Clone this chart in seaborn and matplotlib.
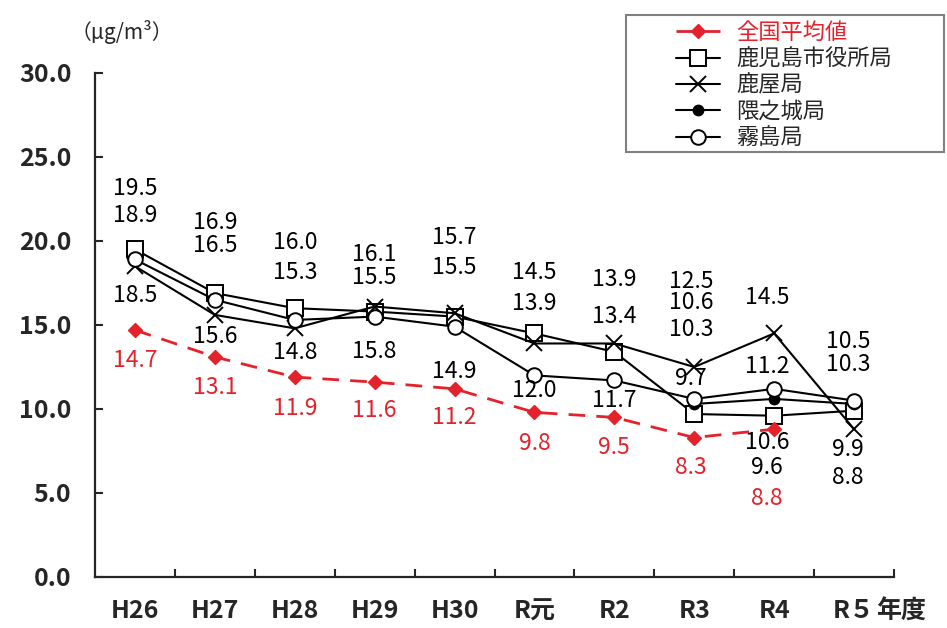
#Recreating the PM2.5 annual average chart (Kagoshima)

import numpy as np
import pandas as pd
import seaborn as sns
import matplotlib
matplotlib.use("Agg")
import matplotlib.pyplot as plt
from matplotlib.patches import Rectangle

# Data
categories = ["H26", "H27", "H28", "H29", "H30", "R元", "R2", "R3", "R4", "R５"]
national = [14.7, 13.1, 11.9, 11.6, 11.2, 9.8, 9.5, 8.3, 8.8, np.nan]
kagoshima = [19.5, 16.9, 16.0, 15.8, 15.5, 14.5, 13.4, 9.7, 9.6, 9.9]
kanoya = [18.5, 15.6, 14.8, 16.1, 15.7, 13.9, 13.9, 12.5, 14.5, 8.8]
kumanojo = [np.nan] * 7 + [10.3, 10.6, 10.3]
kirishima = [18.9, 16.5, 15.3, 15.5, 14.9, 12.0, 11.7, 10.6, 11.2, 10.5]

series_names = ["全国平均値", "鹿児島市役所局", "鹿屋局", "隈之城局", "霧島局"]

# label offsets (pixels, up is positive) - layout only
label_dy = {
    "全国平均値": [-30, -31, -31, -28, -29, -31, -30, -30, -69, 0],
    "鹿児島市役所局": [61, 71, 66, -40, 49, 61, 35, 36, -52, -39],
    "鹿屋局": [-29, -22, -24, 52, 76, 40, 64, 85, 36, -48],
    "隈之城局": [0, 0, 0, 0, 0, 0, 0, 74, -44, 39],
    "霧島局": [44, 54, 47, 39, -45, -15, -20, 96, 22, 59],
}
label_dx = [0, 0, 0, 0, 0, 0, 0, -3, -7, -6]

red = "#E3222B"

df = pd.DataFrame({"x": np.arange(len(categories))})
for name, vals in zip(series_names, [national, kagoshima, kanoya, kumanojo, kirishima]):
    df[name] = vals

sns.set_style("ticks")
plt.rcParams["font.family"] = ["Noto Sans CJK JP", "DejaVu Sans"]

fig = plt.figure(figsize=(9.47, 6.28), dpi=100)
ax = fig.add_axes([95 / 947, 1 - 577 / 628, (894 - 95) / 947, (577 - 73) / 628])

styles = {
    "全国平均値": dict(color=red, marker="D", markersize=7, markerfacecolor=red,
                   markeredgecolor=red, markeredgewidth=1, linewidth=2.0,
                   linestyle=(0, (6.0, 4.0))),
    "鹿児島市役所局": dict(color="black", marker="s", markersize=11, markerfacecolor="white",
                     markeredgecolor="black", markeredgewidth=1.4, linewidth=1.5),
    "鹿屋局": dict(color="black", marker="x", markersize=11, markeredgecolor="black",
                markeredgewidth=1.4, linewidth=1.5),
    "隈之城局": dict(color="black", marker="o", markersize=7.5, markerfacecolor="black",
                 markeredgecolor="black", markeredgewidth=1, linewidth=1.5),
    "霧島局": dict(color="black", marker="o", markersize=10.5, markerfacecolor="white",
                markeredgecolor="black", markeredgewidth=1.4, linewidth=1.5),
}

# draw stations first, national line on top
for name in series_names[1:] + series_names[:1]:
    sub = df[["x", name]].dropna()
    sns.lineplot(data=sub, x="x", y=name, ax=ax, label=name, **styles[name])

# data labels
for name in series_names:
    col = red if name == "全国平均値" else "black"
    for i, v in enumerate(df[name]):
        if np.isnan(v):
            continue
        ax.annotate(f"{v:.1f}", (i, v), xytext=(label_dx[i] * 0.72, label_dy[name][i] * 0.72),
                    textcoords="offset points", ha="center", va="center",
                    fontsize=16.5, color=col)

ax.set_xlim(-0.5, len(categories) - 0.5)
ax.set_ylim(0, 30)
ax.set_yticks(np.arange(0, 31, 5))
ax.set_yticklabels([f"{t:.1f}" for t in np.arange(0, 31, 5)])
ax.set_xticks(np.arange(len(categories)))
ax.set_xticklabels(categories)
ax.set_xticks(np.arange(len(categories)) + 0.5, minor=True)
ax.set_xlabel("")
ax.set_ylabel("")

ax.tick_params(axis="y", direction="in", length=6, width=1.5, pad=17, labelsize=18)
ax.tick_params(axis="x", which="major", length=0, pad=16, labelsize=18)
ax.tick_params(axis="x", which="minor", direction="in", length=6, width=1.5)
for lab in ax.get_xticklabels() + ax.get_yticklabels():
    lab.set_fontweight("bold")

sns.despine(ax=ax)
ax.spines["left"].set_linewidth(1.6)
ax.spines["bottom"].set_linewidth(1.6)

fig.text(122 / 947, 1 - 32 / 628, "（μg/m³）", ha="center", va="center", fontsize=15)
fig.text(876 / 947, 1 - 612 / 628, "年度", ha="left", va="center", fontsize=18, fontweight="bold")

# legend with a plain box around it
handles, labels = ax.get_legend_handles_labels()
order = [labels.index(n) for n in series_names]
leg = ax.legend([handles[k] for k in order], [labels[k] for k in order],
                loc="upper left", bbox_to_anchor=(676 / 947, 1 - 21 / 628),
                bbox_transform=fig.transFigure, frameon=False, fontsize=16,
                borderpad=0, borderaxespad=0, labelspacing=0.15,
                handlelength=2.0, handletextpad=0.7)
leg.get_texts()[0].set_color(red)
fig.patches.append(Rectangle((626 / 947, 1 - 152 / 628), 318 / 947, 137 / 628,
                             transform=fig.transFigure, fill=False,
                             edgecolor="#808080", linewidth=1.5))

plt.savefig("out.png", dpi=100)
